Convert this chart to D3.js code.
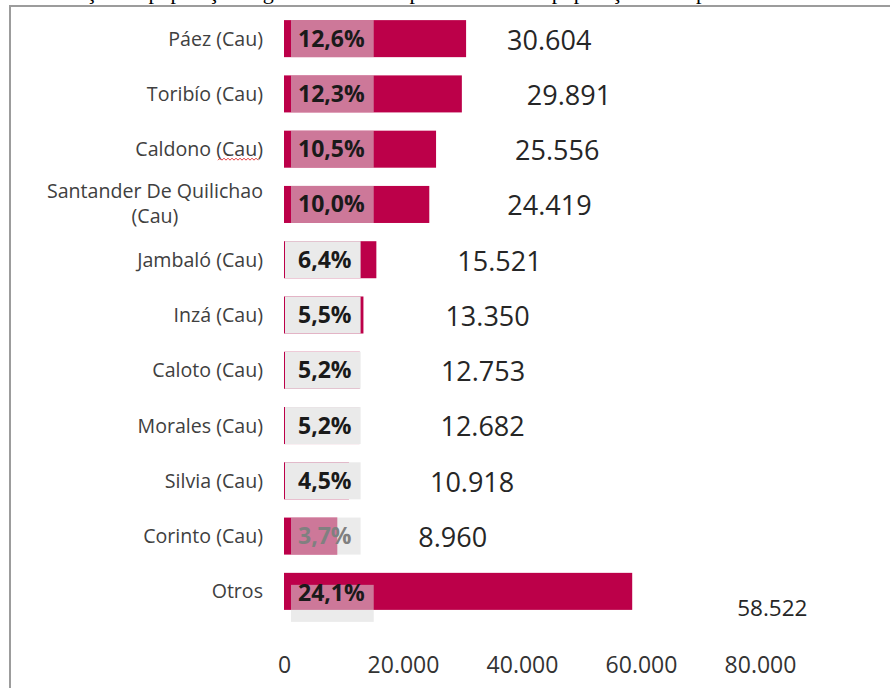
<!DOCTYPE html>
<html>
<head>
<meta charset="utf-8">
<script src="https://d3js.org/d3.v7.min.js"></script>
<style>
  body { margin: 0; background: #fff; }
  svg text { font-family: "Open Sans", "Noto Sans", sans-serif; }
</style>
</head>
<body>
<div id="vis"></div>
<script>
// data
const municipios = ["Páez (Cau)", "Toribío (Cau)", "Caldono (Cau)", "Santander De Quilichao (Cau)",
  "Jambaló (Cau)", "Inzá (Cau)", "Caloto (Cau)", "Morales (Cau)", "Silvia (Cau)", "Corinto (Cau)", "Otros"];
const poblacion = [30604, 29891, 25556, 24419, 15521, 13350, 12753, 12682, 10918, 8960, 58522];
const participacion = [12.6, 12.3, 10.5, 10.0, 6.4, 5.5, 5.2, 5.2, 4.5, 3.7, 24.1];
const ejeTicks = [0, 20000, 40000, 60000, 80000];
const caption = "Distribuição da população segundo os municípios com maior população no departamento";

function renderVis() {
    const width = 890, height = 688;
    const svg = d3.select('#vis').append('svg').attr('width', width).attr('height', height);

    const es = d3.formatLocale({decimal: ',', thousands: '.', grouping: [3], currency: ['$', '']});
    const fmtNum = es.format(',d');
    const fmtPct = d => es.format('.1f')(d) + '%';

    const x = d3.scaleLinear().domain([0, 80000]).range([284, 760]);
    const y = d3.scaleBand().domain(municipios).range([11, 619])
        .paddingInner(0.33).paddingOuter(0.165);
    const bw = y.bandwidth();
    const mid = name => y(name) + bw / 2;

    // cropped caption line above the frame
    svg.append('text').attr('x', 8).attr('y', -1)
        .style('font-family', '"Liberation Serif", "Times New Roman", serif')
        .style('font-size', '22px').attr('fill', '#000').text(caption);

    // frame
    svg.append('path').attr('d', 'M10,688V6H890')
        .attr('fill', 'none').attr('stroke', '#9c9c9c').attr('stroke-width', 2);

    const rows = municipios.map((m, i) => ({name: m, value: poblacion[i], pct: participacion[i], i: i}));

    // bars
    svg.selectAll('.bar').data(rows).enter().append('rect')
        .attr('class', 'bar')
        .attr('x', x(0))
        .attr('y', d => y(d.name))
        .attr('width', d => x(d.value) - x(0))
        .attr('height', bw)
        .attr('fill', '#bc0049');

    // category labels
    const cat = svg.append('g');
    rows.forEach(d => {
        const parts = d.name.length > 20 ? [d.name.slice(0, d.name.lastIndexOf(' (')), d.name.slice(d.name.lastIndexOf(' (') + 1)] : [d.name];
        if (parts.length === 1) {
            cat.append('text').attr('x', 263).attr('y', mid(d.name) + 7)
                .attr('text-anchor', 'end').style('font-size', '19.6px').attr('fill', '#404040')
                .text(d.name);
            if (d.name.startsWith('Caldono')) {
                // spell-check squiggle under "Cau"
                const r = 263 - 5, l = r - 40, yy = mid(d.name) + 11;
                let p = `M${l},${yy}`;
                for (let k = l; k < r; k += 4) p += `l2,-2l2,2`;
                cat.append('path').attr('d', p).attr('fill', 'none')
                    .attr('stroke', '#e23b3b').attr('stroke-width', 1);
            }
        } else {
            const t1 = cat.append('text').attr('x', 263).attr('y', mid(d.name) - 6)
                .attr('text-anchor', 'end').style('font-size', '19.6px').attr('fill', '#404040')
                .text(parts[0]);
            const w1 = t1.node().getComputedTextLength();
            cat.append('text').attr('x', 263 - w1 / 2).attr('y', mid(d.name) + 19)
                .attr('text-anchor', 'middle').style('font-size', '19.6px').attr('fill', '#404040')
                .text(parts[1]);
        }
    });

    // percentage labels with boxes
    const solid = i => i >= 4 && i <= 8;
    rows.forEach(d => {
        const g = svg.append('g');
        const last = d.i === rows.length - 1;
        const t = g.append('text').attr('x', 298)
            .attr('y', mid(d.name) + (last ? 10 : 8))
            .style('font-size', '23px').style('font-weight', 700)
            .attr('fill', d.i === 9 ? '#808080' : '#1a1a1a')
            .text(fmtPct(d.pct));
        const w = t.node().getComputedTextLength();
        const left = solid(d.i) ? 285 : 291;
        g.insert('rect', 'text')
            .attr('x', left).attr('y', y(d.name) + (last ? 12 : 0))
            .attr('width', 298 + w + 9 - left).attr('height', bw)
            .attr('fill', solid(d.i) ? '#eaeaea' : '#dadada')
            .attr('fill-opacity', solid(d.i) ? 1 : 0.55);
    });

    // value labels
    const nudgeX = [-40, -16, -2, -3, 0, 1, 0, 0, 0, 0, 24];
    svg.selectAll('.val').data(rows).enter().append('text')
        .attr('class', 'val')
        .attr('x', d => x(d.value) + 81 + nudgeX[d.i])
        .attr('y', d => mid(d.name) + (d.i === rows.length - 1 ? 16.5 : 1.5))
        .attr('dy', '0.35em')
        .style('font-size', d => d.i === rows.length - 1 ? '22.5px' : '27px')
        .attr('fill', '#262626')
        .text(d => fmtNum(d.value));

    // x axis labels only
    const axis = d3.axisBottom(x).tickValues(ejeTicks).tickFormat(fmtNum).tickSize(0).tickPadding(0);
    const ax = svg.append('g').attr('transform', 'translate(0,657)').call(axis);
    ax.select('.domain').remove();
    ax.selectAll('text').style('font-size', '23px').style('font-family', '"Open Sans", sans-serif')
        .attr('fill', '#333').attr('dy', '0.71em');
}
renderVis();
</script>
</body>
</html>
